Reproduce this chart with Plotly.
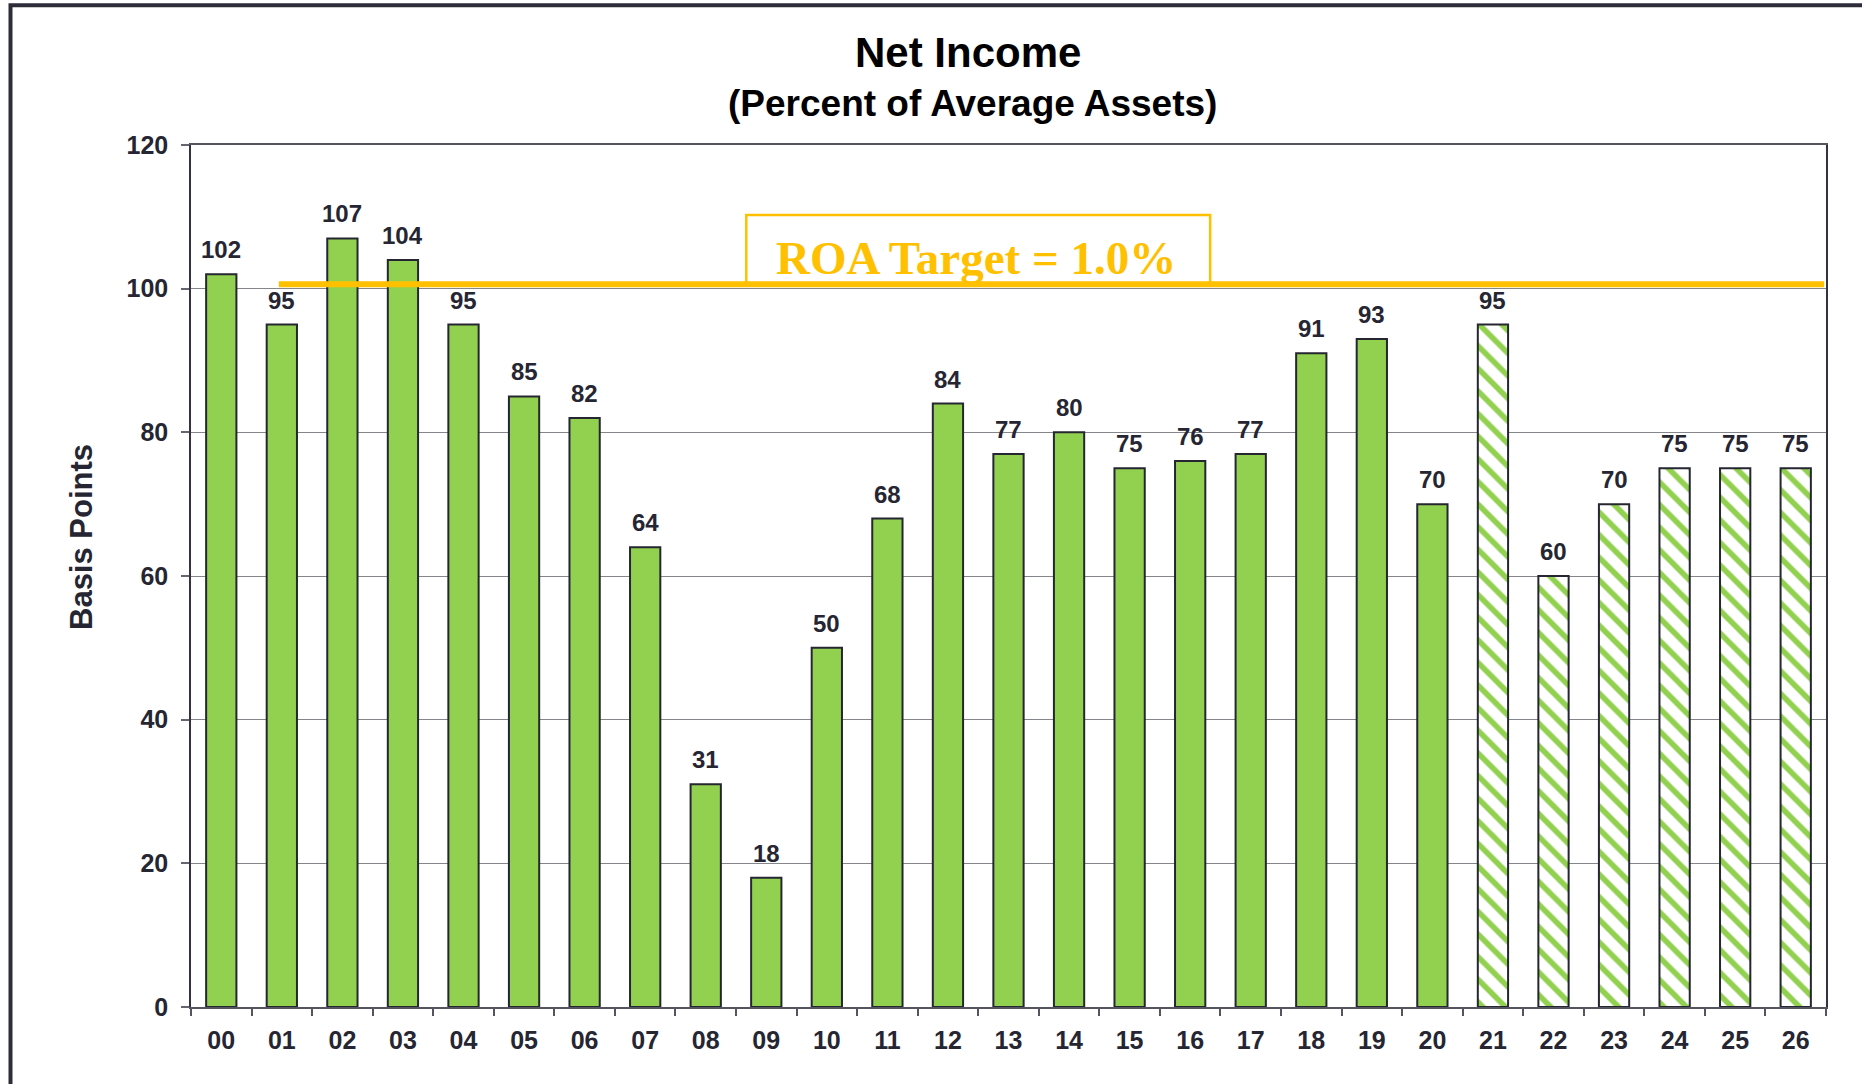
import plotly.graph_objects as go

# ---- data ----
years = ["00", "01", "02", "03", "04", "05", "06", "07", "08", "09",
         "10", "11", "12", "13", "14", "15", "16", "17", "18", "19",
         "20", "21", "22", "23", "24", "25", "26"]
net_income_bp = [102, 95, 107, 104, 95, 85, 82, 64, 31, 18,
                 50, 68, 84, 77, 80, 75, 76, 77, 91, 93,
                 70, 95, 60, 70, 75, 75, 75]
is_projection = [False] * 21 + [True] * 6
roa_target_bp = 100.6
y_ticks = [0, 20, 40, 60, 80, 100, 120]

title_text = "Net Income"
subtitle_text = "(Percent of Average Assets)"
y_title = "Basis Points"
roa_label = "ROA Target = 1.0%"

# ---- styles ----
W, H = 1862, 1084
L, R, T, B = 191, 36, 145, 77
PW, PH = W - L - R, H - T - B
GREEN = "#92D050"
DARK = "#262633"
GOLD = "#FFC000"
FONT = "Liberation Sans, Arial, sans-serif"


def px2paper_x(px):
    return (px - L) / PW


def px2paper_y(py):
    return (H - B - py) / PH


act_x = [y for y, p in zip(years, is_projection) if not p]
act_v = [v for v, p in zip(net_income_bp, is_projection) if not p]
prj_x = [y for y, p in zip(years, is_projection) if p]
prj_v = [v for v, p in zip(net_income_bp, is_projection) if p]

fig = go.Figure()
fig.add_trace(go.Bar(
    x=act_x, y=act_v, width=0.5,
    marker=dict(color=GREEN, line=dict(color=DARK, width=2)),
    showlegend=False, hoverinfo="x+y",
))
fig.add_trace(go.Bar(
    x=prj_x, y=prj_v, width=0.5,
    marker=dict(color="white", line=dict(color=DARK, width=2),
                pattern=dict(shape="\\", fgcolor=GREEN, bgcolor="white", fgopacity=1,
                             size=16, solidity=0.35, fillmode="replace")),
    showlegend=False, hoverinfo="x+y",
))

annotations = []
for yr, v in zip(years, net_income_bp):
    annotations.append(dict(
        x=yr, y=v, xref="x", yref="y", text=f"<b>{v}</b>", showarrow=False,
        yanchor="bottom", yshift=9,
        font=dict(family=FONT, size=24, color=DARK),
    ))

# titles
annotations.append(dict(
    x=px2paper_x(968), y=px2paper_y(52), xref="paper", yref="paper",
    text=f"<b>{title_text}</b>", showarrow=False, xanchor="center", yanchor="middle",
    font=dict(family=FONT, size=42, color="black"),
))
annotations.append(dict(
    x=px2paper_x(972), y=px2paper_y(103), xref="paper", yref="paper",
    text=f"<b>{subtitle_text}</b>", showarrow=False, xanchor="center", yanchor="middle",
    font=dict(family=FONT, size=37, color="black"),
))
annotations.append(dict(
    x=px2paper_x(81), y=px2paper_y(537), xref="paper", yref="paper",
    text=f"<b>{y_title}</b>", showarrow=False, textangle=-90,
    xanchor="center", yanchor="middle",
    font=dict(family=FONT, size=31, color=DARK),
))
# ROA label
annotations.append(dict(
    x=12.46, y=104.3, xref="x", yref="y",
    text=f"<b>{roa_label}</b>", showarrow=False, xanchor="center", yanchor="middle",
    font=dict(family="Liberation Serif, Times New Roman, serif", size=47, color=GOLD),
))

shapes = [
    # ROA box
    dict(type="rect", xref="x", yref="y", x0=8.67, x1=16.33, y0=roa_target_bp, y1=110.26,
         line=dict(color=GOLD, width=2.5), fillcolor="rgba(0,0,0,0)", layer="above"),
    # ROA line
    dict(type="line", xref="x", yref="y", x0=0.95, x1=26.47, y0=roa_target_bp, y1=roa_target_bp,
         line=dict(color=GOLD, width=6), layer="above"),
    # outer frame
    dict(type="rect", xref="paper", yref="paper",
         x0=px2paper_x(10.5), x1=px2paper_x(W + 20),
         y0=px2paper_y(H + 20), y1=px2paper_y(5.3),
         line=dict(color="#2d2d3a", width=4), fillcolor="rgba(0,0,0,0)", layer="above"),
]

fig.update_layout(
    width=W, height=H,
    margin=dict(l=L, r=R, t=T, b=B, pad=0),
    paper_bgcolor="white", plot_bgcolor="white",
    barmode="overlay",
    annotations=annotations,
    shapes=shapes,
    font=dict(family=FONT, color=DARK),
)
fig.update_xaxes(
    type="category", categoryorder="array", categoryarray=years,
    range=[-0.5, len(years) - 0.5],
    showline=True, linecolor="#555560", linewidth=1.5, mirror=True,
    ticks="outside", tickson="boundaries", ticklen=7, tickcolor="#555560", tickwidth=1.5,
    tickfont=dict(family=FONT, size=25, color=DARK, weight="bold"),
    ticklabelstandoff=10,
    showgrid=False, zeroline=False,
)
fig.update_yaxes(
    range=[0, 120], tickvals=y_ticks,
    showline=True, linecolor="#333340", linewidth=1.5, mirror=True,
    ticks="outside", ticklen=8, tickcolor="#666670", tickwidth=1.5,
    tickfont=dict(family=FONT, size=25, color=DARK, weight="bold"),
    ticklabelstandoff=8,
    showgrid=True, gridcolor="#85858c", gridwidth=1.2, zeroline=False,
)

fig.write_html("out.html", config={"displayModeBar": False},
               post_script="document.body.style.margin='0';document.body.style.overflow='hidden';")
